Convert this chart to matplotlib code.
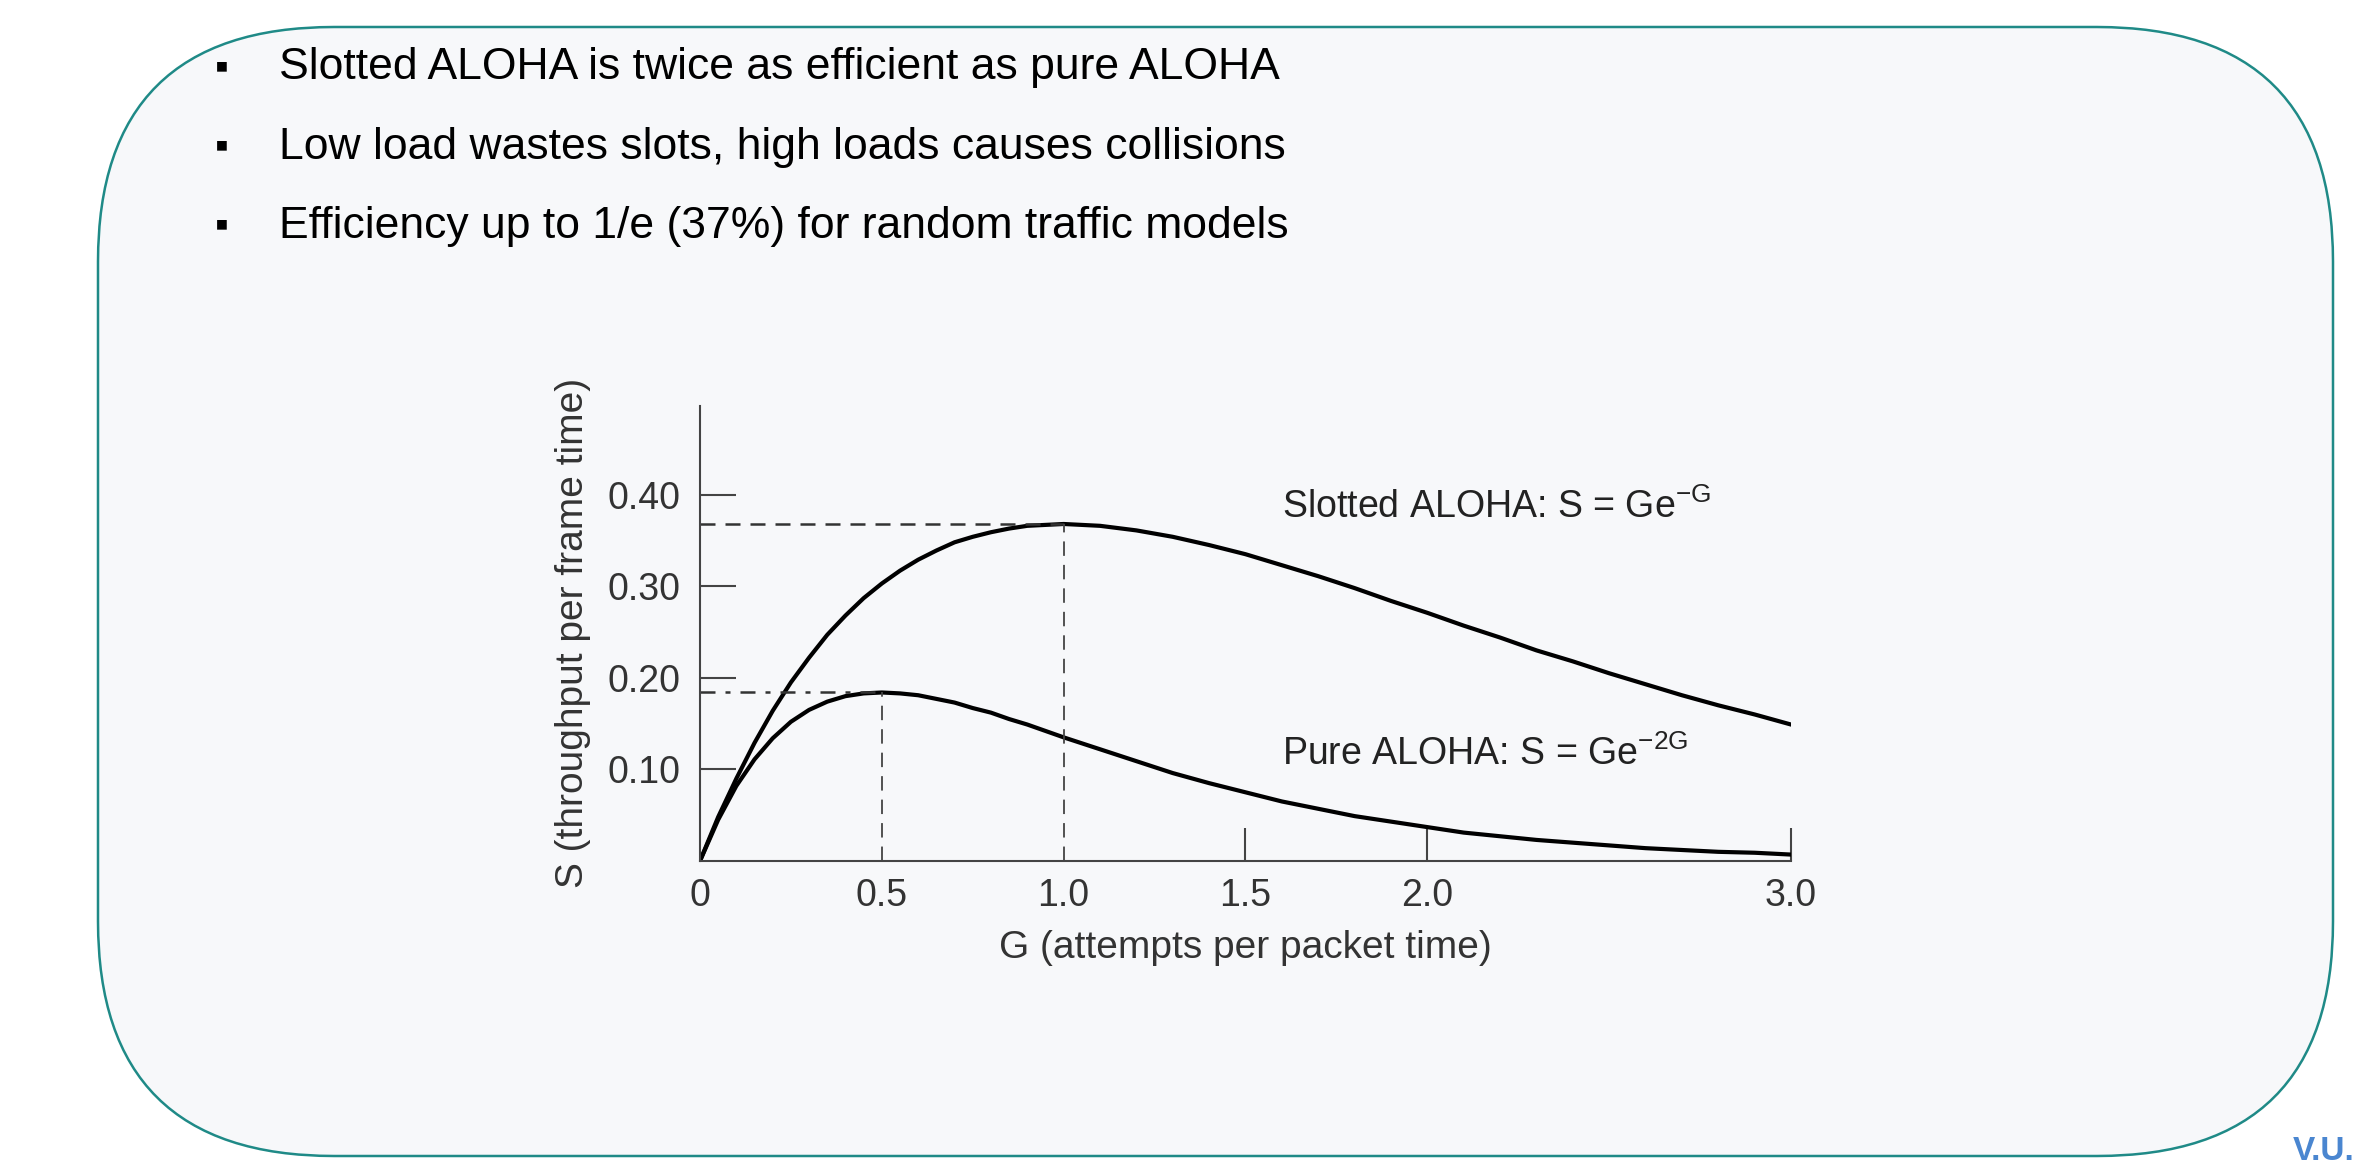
import matplotlib
matplotlib.use("Agg")
import matplotlib.pyplot as plt
from matplotlib.patches import FancyBboxPatch

plt.rcParams['font.family'] = ['Liberation Sans', 'DejaVu Sans']

# Werte (dichter im steilen Bereich)
g_vals = [0.0, 0.05, 0.1, 0.15, 0.2, 0.25, 0.3, 0.35, 0.4, 0.45, 0.5, 0.55, 0.6, 0.65,
          0.7, 0.75, 0.8, 0.85, 0.9, 0.95, 1.0,
          1.1, 1.2, 1.3, 1.4, 1.5, 1.6, 1.7, 1.8, 1.9, 2.0,
          2.1, 2.2, 2.3, 2.4, 2.5, 2.6, 2.7, 2.8, 2.9, 3.0]
slotted = [0.0, 0.048, 0.090, 0.129, 0.164, 0.195, 0.222, 0.247, 0.268, 0.287, 0.303,
           0.317, 0.329, 0.339, 0.348, 0.354, 0.359, 0.363, 0.366, 0.367, 0.368,
           0.366, 0.361, 0.354, 0.345, 0.335, 0.323, 0.311, 0.298, 0.284, 0.271,
           0.257, 0.244, 0.230, 0.218, 0.205, 0.193, 0.181, 0.170, 0.160, 0.149]
pure = [0.0, 0.045, 0.082, 0.111, 0.134, 0.152, 0.165, 0.174, 0.180, 0.183, 0.184,
        0.183, 0.181, 0.177, 0.173, 0.167, 0.162, 0.155, 0.149, 0.142, 0.135,
        0.122, 0.109, 0.096, 0.085, 0.075, 0.065, 0.057, 0.049, 0.043, 0.037,
        0.031, 0.027, 0.023, 0.020, 0.017, 0.014, 0.012, 0.010, 0.009, 0.007]
y_ticks = [0.10, 0.20, 0.30, 0.40]
x_ticks = [0, 0.5, 1.0, 1.5, 2.0, 3.0]
bullets = ["Slotted ALOHA is twice as efficient as pure ALOHA",
           "Low load wastes slots, high loads causes collisions",
           "Efficiency up to 1/e (37%) for random traffic models"]
peak_slotted = (1.0, 0.368)
peak_pure = (0.5, 0.184)

fig = plt.figure(figsize=(23.6, 11.73), dpi=100)
fig.patch.set_facecolor('white')

# Rahmen der Folie
W, H = 2360, 1173
box = FancyBboxPatch((98 / W, 17 / H), (2333 - 98) / W, (1146 - 17) / H,
                     boxstyle="round,pad=0,rounding_size=0.1",
                     transform=fig.transFigure, facecolor='#f7f8fa',
                     edgecolor='#1f8a87', linewidth=1.8, mutation_aspect=2.0,
                     zorder=-5)
fig.patches.append(box)

for i, b in enumerate(bullets):
    y = 1 - (68 + i * 79) / H
    fig.text(222 / W, y, "\u25aa", fontsize=28, va='center', ha='center', color='black')
    fig.text(279 / W, y, b, fontsize=32, va='center', color='black')

fig.text(2293 / W, 1 - 1152 / H, "V.U.", fontsize=24, fontweight='bold',
         color='#4a86d0', va='center')

ax = fig.add_axes([0.2966, 0.266, 0.4623, 0.388])
ax.set_facecolor('none')
ax.plot(g_vals, slotted, color='black', lw=3, solid_joinstyle='round')
ax.plot(g_vals, pure, color='black', lw=3, solid_joinstyle='round')

ax.plot([0, peak_slotted[0]], [peak_slotted[1]] * 2, color='#333', lw=1.8, ls=(0, (6, 4)))
ax.plot([peak_slotted[0]] * 2, [0, peak_slotted[1]], color='#444', lw=1.3, ls=(0, (8, 5)))
ax.plot([0, peak_pure[0]], [peak_pure[1]] * 2, color='#333', lw=1.8, ls=(0, (6, 4, 2, 4)))
ax.plot([peak_pure[0]] * 2, [0, peak_pure[1]], color='#444', lw=1.3, ls=(0, (8, 5)))

ax.set_xlim(0, 3.0)
ax.set_ylim(0, 0.497)
for s in ['top', 'right']:
    ax.spines[s].set_visible(False)
for s in ['left', 'bottom']:
    ax.spines[s].set_color('#444')
    ax.spines[s].set_linewidth(1.5)
ax.spines['bottom'].set_bounds(0, 3.0)

ax.set_yticks(y_ticks)
ax.set_yticklabels([f"{v:.2f}" for v in y_ticks])
ax.tick_params(axis='y', direction='in', length=26, width=1.5, color='#444',
               labelsize=27, labelcolor='#333', pad=14)
ax.set_xticks(x_ticks)
ax.set_xticklabels(["0", "0.5", "1.0", "1.5", "2.0", "3.0"])
ax.tick_params(axis='x', direction='in', length=24, width=1.5, color='#444',
               labelsize=27, labelcolor='#333', pad=12)
for t, v in zip(ax.xaxis.get_major_ticks(), x_ticks):
    if v in (0, 0.5, 1.0):
        t.tick1line.set_visible(False)

ax.set_xlabel("G (attempts per packet time)", fontsize=28, color='#333', labelpad=12)
ax.set_ylabel("S (throughput per frame time)", fontsize=28, color='#333', labelpad=12)

ax.text(1.60, 0.375, "Slotted ALOHA: S = Ge$^{\\mathregular{-G}}$", fontsize=27, color='#222')
ax.text(1.60, 0.105, "Pure ALOHA: S = Ge$^{\\mathregular{-2G}}$", fontsize=27, color='#222')

fig.savefig("out.png", dpi=100, facecolor=fig.get_facecolor())
